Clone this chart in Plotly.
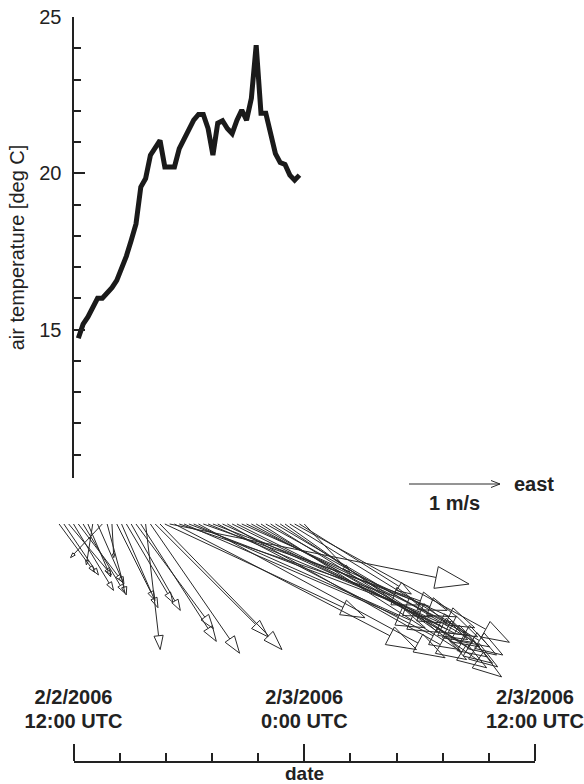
import numpy as np
import pandas as pd
import plotly.graph_objects as go

# ---------------------------------------------------------------- data
T0 = pd.Timestamp("2006-02-02 12:00")

# air temperature [deg C], 15-minute samples starting 2/2/2006 12:15 UTC
temp_c = [14.72, 15.17, 15.40, 15.70, 16.00, 16.00, 16.15, 16.34, 16.57, 16.93,
          17.35, 17.85, 18.38, 19.56, 19.83, 20.58, 20.79, 21.05, 20.20, 20.20,
          20.20, 20.79, 21.11, 21.43, 21.70, 21.88, 21.88, 21.43, 20.58, 21.60,
          21.68, 21.43, 21.27, 21.70, 22.02, 21.70, 22.40, 24.10, 21.92, 21.92,
          21.27, 20.63, 20.34, 20.28, 19.94, 19.78, 19.94]
temp_time = pd.date_range("2006-02-02 12:15", periods=len(temp_c), freq="15min")

# wind components [m/s] (u = east, v = north), 15-minute samples from 11:15 UTC
wind_u = [0.39, 0.38, 0.47, 0.44, 0.49, 0.46, 0.25, -0.07, 0.29, -0.35,
          0.21, 0.02, 0.42, 0.40, 0.51, 0.54, 0.85, 0.83, 0.16, 0.98,
          1.24, 1.34, 2.20, 3.29, 2.66, 2.65, 2.65, 2.68, 2.68, 2.71,
          2.68, 2.62, 2.68, 2.66, 2.69, 2.63, 2.59, 2.59, 2.56, 2.54,
          2.51, 2.54, 2.48, 2.46, 2.44, 2.43, 2.39, 2.38, 2.34, 2.36,
          1.23, 0.50]
wind_v = [-0.53, -0.56, -0.56, -0.73, -0.64, -0.76, -0.58, -0.45, -0.66, -0.37,
          -0.78, -0.37, -0.84, -0.92, -0.86, -0.95, -1.15, -1.29, -1.38, -1.42,
          -1.24, -1.38, -1.03, -0.66, -1.38, -0.89, -1.14, -1.02, -1.19, -1.47,
          -0.95, -1.09, -1.02, -1.38, -1.22, -1.49, -1.27, -1.30, -1.14, -1.24,
          -1.35, -1.46, -1.58, -1.35, -1.53, -1.44, -1.57, -1.68, -1.44, -1.30,
          -0.77, -0.53]
wind_time = pd.date_range("2006-02-02 11:15", periods=len(wind_u), freq="15min")

date_tick_hours = [0, 12, 24]
date_tick_day = ["2/2/2006", "2/3/2006", "2/3/2006"]
date_tick_clock = ["12:00 UTC", "0:00 UTC", "12:00 UTC"]
temp_tick_vals = [15, 20, 25]

# ---------------------------------------------------------------- layout geometry
W, H = 584, 784
FONT = "Liberation Sans, Arial, Helvetica, sans-serif"
INK = "#222222"

X_LEFT, X_RIGHT = 73.5, 535.0          # time axis extent [px]
PX_PER_HOUR = (X_RIGHT - X_LEFT) / 24.0
PX_PER_MS = 91.0                        # length of a 1 m/s vector [px]
HOURS_PER_MS = PX_PER_MS / PX_PER_HOUR

TEMP_TOP, TEMP_BOTTOM = 17.0, 478.0     # temperature axis extent [px]
PX_PER_DEG = 31.25
TEMP_MIN = 25 - (TEMP_BOTTOM - TEMP_TOP) / PX_PER_DEG

VEC_BASE = 524.0                        # vector baseline [px]
VEC_TOP, VEC_BOTTOM = 465.0, 690.0
DATE_AXIS_Y = 763.0
DAY_ROW_Y = 720.0


def fx(px):
    return px / W


def fy(px):
    return 1 - px / H


def hours(ts):
    return np.asarray((ts - T0) / pd.Timedelta(hours=1), dtype=float)


# ---------------------------------------------------------------- vector paths
HEAD_FRAC = 0.11
HEAD_HALF = 0.33

vx, vy = [], []
for t, u, v in zip(hours(wind_time), wind_u, wind_v):
    L = float(np.hypot(u, v))
    if L == 0:
        continue
    ex, ey = u / L, v / L
    hl = HEAD_FRAC * L
    hw = HEAD_HALF * hl
    bx, by = u - ex * hl, v - ey * hl
    lx, ly = bx - ey * hw, by + ex * hw
    rx, ry = bx + ey * hw, by - ex * hw
    pts = [(0, 0), (bx, by), (lx, ly), (u, v), (rx, ry), (bx, by)]
    for px_, py_ in pts:
        vx.append(t + px_ * HOURS_PER_MS)
        vy.append(py_)
    vx.append(None)
    vy.append(None)

# reference vector: 1 m/s to the east
REF_X = (409.0 - X_LEFT) / PX_PER_HOUR
REF_Y = (VEC_BASE - 484.0) / PX_PER_MS
ref_tip = REF_X + 1.0 * HOURS_PER_MS
chev_len = 9.0 / PX_PER_MS
chev_half = 3.5 / PX_PER_MS
ref_x = [REF_X, ref_tip, None,
         ref_tip - chev_len * HOURS_PER_MS, ref_tip, ref_tip - chev_len * HOURS_PER_MS]
ref_y = [REF_Y, REF_Y, None,
         REF_Y + chev_half, REF_Y, REF_Y - chev_half]

# ---------------------------------------------------------------- figure
fig = go.Figure()

fig.add_trace(go.Scatter(
    x=hours(temp_time), y=temp_c, mode="lines",
    line=dict(color="#1a1a1a", width=5),
    xaxis="x", yaxis="y", showlegend=False, hoverinfo="skip"))

fig.add_trace(go.Scatter(
    x=vx, y=vy, mode="lines",
    line=dict(color="#2a2a2a", width=1),
    xaxis="x2", yaxis="y2", showlegend=False, hoverinfo="skip"))

fig.add_trace(go.Scatter(
    x=ref_x, y=ref_y, mode="lines",
    line=dict(color="#2a2a2a", width=1),
    xaxis="x2", yaxis="y2", showlegend=False, hoverinfo="skip"))

for xa, ya in (("x3", "y3"), ("x4", "y4")):
    fig.add_trace(go.Scatter(
        x=[None], y=[None], mode="lines",
        xaxis=xa, yaxis=ya, showlegend=False, hoverinfo="skip"))

vec_x_range = [(0 - X_LEFT) / PX_PER_HOUR, (W - X_LEFT) / PX_PER_HOUR]
vec_y_range = [(VEC_BASE - VEC_BOTTOM) / PX_PER_MS, (VEC_BASE - VEC_TOP) / PX_PER_MS]

bold20 = dict(size=20, color=INK, weight="bold")

fig.update_layout(
    width=W, height=H,
    margin=dict(l=0, r=0, t=0, b=0, pad=0, autoexpand=False),
    paper_bgcolor="white", plot_bgcolor="rgba(0,0,0,0)",
    font=dict(family=FONT, color=INK),
    # temperature panel
    xaxis=dict(domain=[fx(X_LEFT), fx(X_RIGHT)], range=[0, 24], visible=False,
               anchor="y", automargin=False),
    yaxis=dict(domain=[fy(TEMP_BOTTOM), fy(TEMP_TOP)], range=[TEMP_MIN, 25],
               anchor="x", automargin=False,
               showline=True, linecolor=INK, linewidth=2,
               showgrid=False, zeroline=False,
               ticks="inside", ticklen=11, tickwidth=2, tickcolor=INK,
               tickvals=temp_tick_vals, tickfont=dict(size=20, color=INK),
               ticklabelstandoff=6,
               minor=dict(ticks="inside", tick0=0, dtick=1, ticklen=7,
                          tickwidth=2, tickcolor=INK, showgrid=False),
               title=dict(text="air temperature [deg C]",
                          font=dict(size=20, color=INK), standoff=9)),
    # wind vector panel
    xaxis2=dict(domain=[0, 1], range=vec_x_range, visible=False, anchor="y2",
                automargin=False),
    yaxis2=dict(domain=[fy(VEC_BOTTOM), fy(VEC_TOP)], range=vec_y_range,
                visible=False, anchor="x2", automargin=False),
    # date axis: line, ticks and clock-time labels
    xaxis3=dict(domain=[fx(X_LEFT), fx(X_RIGHT)], range=[0, 24], anchor="y3",
                automargin=False, side="top",
                showline=True, linecolor=INK, linewidth=2,
                showgrid=False, zeroline=False,
                ticks="outside", ticklen=17, tickwidth=2, tickcolor=INK,
                tickvals=date_tick_hours, ticktext=date_tick_clock,
                tickfont=bold20, ticklabelstandoff=8,
                minor=dict(ticks="outside", tick0=0, dtick=2.4, ticklen=8,
                           tickwidth=2, tickcolor=INK, showgrid=False)),
    yaxis3=dict(domain=[0, fy(DATE_AXIS_Y)], range=[0, 1], visible=False,
                anchor="x3", automargin=False),
    # date axis: calendar-day labels row
    xaxis4=dict(domain=[fx(X_LEFT), fx(X_RIGHT)], range=[0, 24], anchor="y4",
                automargin=False, side="top", showline=False,
                showgrid=False, zeroline=False, ticks="", ticklen=0,
                tickvals=date_tick_hours, ticktext=date_tick_day,
                tickfont=bold20, ticklabelstandoff=11),
    yaxis4=dict(domain=[0, fy(DAY_ROW_Y)], range=[0, 1], visible=False,
                anchor="x4", automargin=False),
    annotations=[
        dict(text="east", x=ref_tip, y=REF_Y, xref="x2", yref="y2",
             xanchor="left", yanchor="middle", xshift=12, showarrow=False,
             font=bold20),
        dict(text="1 m/s", x=(REF_X + ref_tip) / 2, y=REF_Y, xref="x2", yref="y2",
             xanchor="center", yanchor="middle", yshift=-19, showarrow=False,
             font=bold20),
        dict(text="date", x=0.5, xref="x3 domain", y=fy(773), yref="paper",
             xanchor="center", yanchor="middle", showarrow=False,
             font=dict(size=19, color=INK, weight="bold")),
    ],
)

fig.write_html("out.html")
